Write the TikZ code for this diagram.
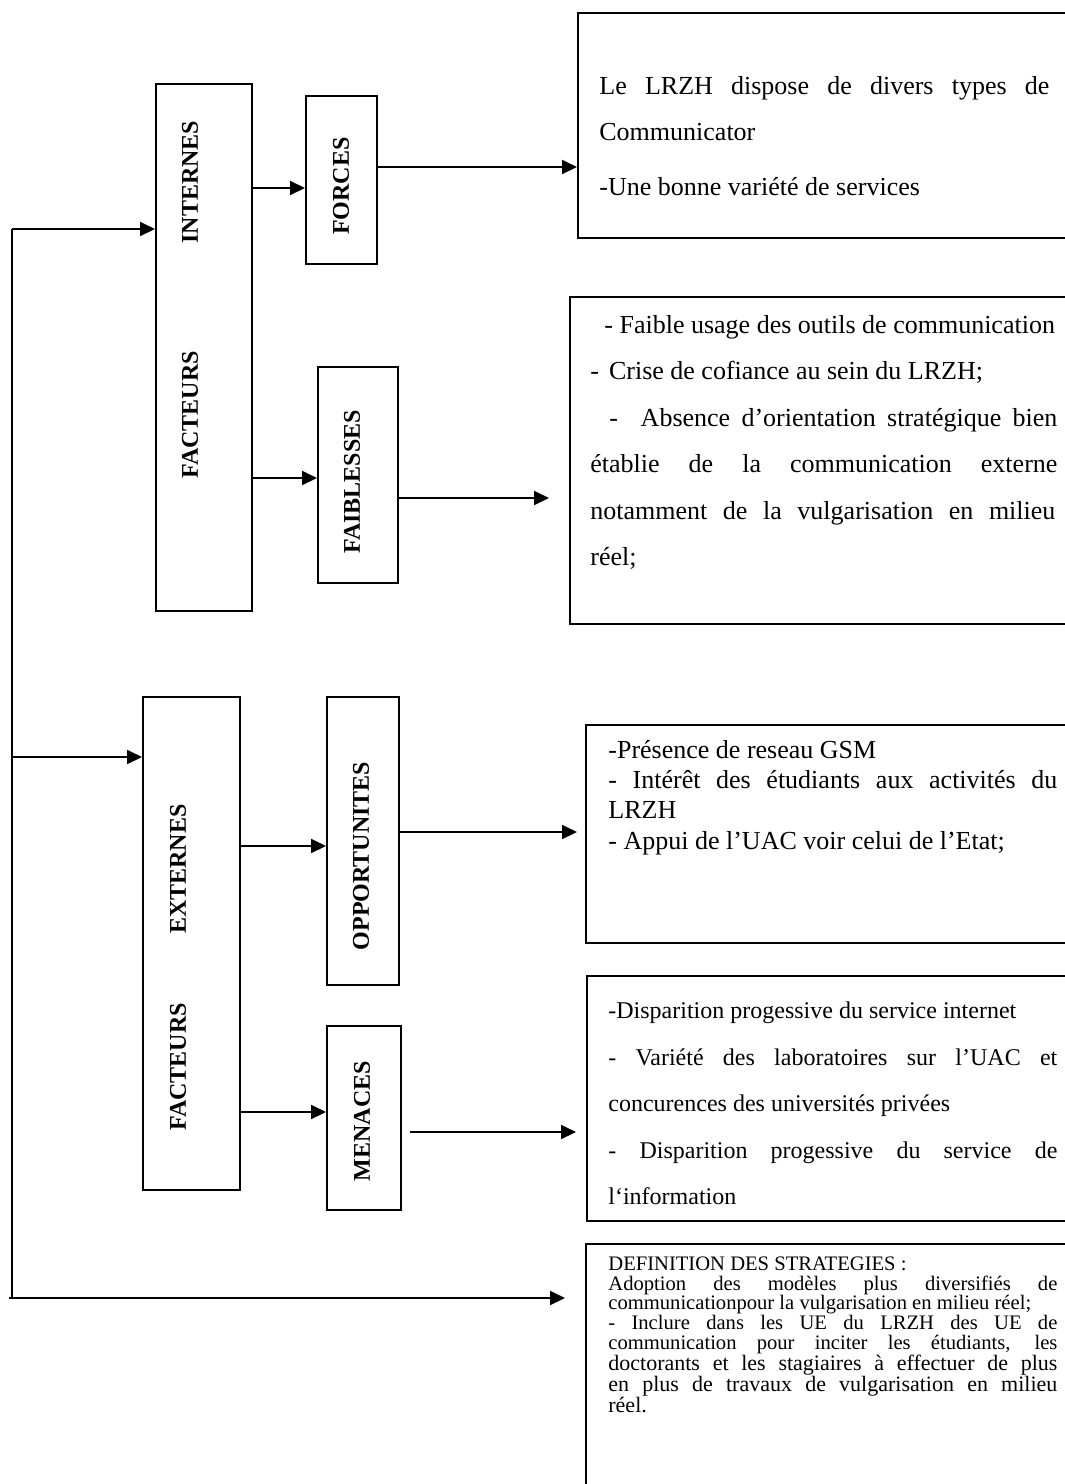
\documentclass[tikz,border=0pt]{standalone}
\usepackage{fontspec}
\setmainfont{Liberation Serif}
\usetikzlibrary{arrows.meta}
\newcommand\jline[2]{\makebox[#1][s]{#2}}
\begin{document}
\begin{tikzpicture}[x=0.5pt,y=-0.5pt,
  rect/.style={draw, line width=1pt, inner sep=0pt},
  lab/.style={rotate=90, inner sep=0pt, font=\fontsize{12}{14}\selectfont\bfseries},
  txt/.style={anchor=base west, inner sep=0pt, font=\fontsize{13}{15}\selectfont},
  txtm/.style={anchor=base west, inner sep=0pt, font=\fontsize{12}{14}\selectfont},
  txts/.style={anchor=base west, inner sep=0pt, font=\fontsize{10.3}{10}\selectfont},
  txtl/.style={anchor=base west, inner sep=0pt, font=\fontsize{11}{10.5}\selectfont},
  ln/.style={line width=1pt},
  arr/.style={line width=1pt, -{Triangle[length=7.5pt,width=7pt]}}]
\useasboundingbox (0,0) rectangle (1065,1484);
\fill[white] (0,0) rectangle (1065,1484);

% left column boxes
\node[rect, minimum width=48pt, minimum height=263.5pt] (intbox) at (204,347.5) {};
\node[lab] (intA) at (190,182) {INTERNES};
\node[lab] (intB) at (190,415) {FACTEURS};
\node[rect, minimum width=48.5pt, minimum height=246.5pt] (extbox) at (191.5,943.5) {};
\node[lab] (extA) at (178,869) {EXTERNES};
\node[lab] (extB) at (178,1067) {FACTEURS};

% middle boxes
\node[rect, minimum width=35.5pt, minimum height=84pt] (forces) at (341.5,180) {};
\node[lab] at (341,186) {FORCES};
\node[rect, minimum width=40pt, minimum height=108pt] (faib) at (358,475) {};
\node[lab] at (352,482) {FAIBLESSES};
\node[rect, minimum width=36pt, minimum height=144pt] (opp) at (363,841) {};
\node[lab] at (361,856) {OPPORTUNITES};
\node[rect, minimum width=37pt, minimum height=92pt] (men) at (364,1118) {};
\node[lab] at (362,1121) {MENACES};

% right text boxes
\node[rect, minimum width=246pt, minimum height=112.5pt] (b1) at (824,125.5) {};
\node[txt] at (599,94) {\jline{225pt}{Le LRZH dispose de divers types de}};
\node[txt] at (599,140) {Communicator};
\node[txt] at (599,195) {-Une bonne variété de services};

\node[rect, minimum width=250pt, minimum height=163.5pt] (b2) at (820,460.5) {};
\node[txt] at (604,333) {- Faible usage des outils de communication};
\node[txt] at (590,379) {-\hspace{5pt}Crise de cofiance au sein du LRZH;};
\node[txt] at (609,426) {\jline{224pt}{- \ Absence d’orientation stratégique bien}};
\node[txt] at (590,472) {\jline{233.5pt}{établie de la communication externe}};
\node[txt] at (590,519) {\jline{232.5pt}{notamment de la vulgarisation en milieu}};
\node[txt] at (590,565) {réel;};

\node[rect, minimum width=242pt, minimum height=109pt] (b3) at (828,834) {};
\node[txt] at (608,758) {-Présence de reseau GSM};
\node[txt] at (608,788) {\jline{224.5pt}{- Intérêt des étudiants aux activités du}};
\node[txt] at (608,818) {LRZH};
\node[txt] at (608,849) {- Appui de l’UAC voir celui de l’Etat;};

\node[rect, minimum width=241.5pt, minimum height=122.5pt] (b4) at (828.5,1098.5) {};
\node[txtm] at (608,1018) {-Disparition progessive du service internet};
\node[txtm] at (608,1065) {\jline{224.5pt}{- Variété des laboratoires sur l’UAC et}};
\node[txtm] at (608,1111) {concurences des universités privées};
\node[txtm] at (608,1158) {\jline{224.5pt}{- Disparition progessive du service de}};
\node[txtm] at (608,1204) {l‘information};

\node[rect, minimum width=242pt, minimum height=128pt] (b5) at (828,1372) {};
\node[txts] at (608,1270) {DEFINITION DES STRATEGIES :};
\node[txts] at (608,1290) {\jline{224.5pt}{Adoption des modèles plus diversifiés de}};
\node[txts] at (608,1309) {communicationpour la vulgarisation en milieu réel;};
\node[txts] at (608,1329) {\jline{224.5pt}{- Inclure dans les UE du LRZH des UE de}};
\node[txts] at (608,1349) {\jline{224.5pt}{communication pour inciter les étudiants, les}};
\node[txtl] at (608,1370) {\jline{224.5pt}{doctorants et les stagiaires à effectuer de plus}};
\node[txtl] at (608,1391) {\jline{224.5pt}{en plus de travaux de vulgarisation en milieu}};
\node[txtl] at (608,1412) {réel.};

% trunk
\coordinate (ttop) at (12,229);
\coordinate (tmid) at (12,757);
\coordinate (tbot) at (12,1298);
\coordinate (tstart) at (9,1298);
\coordinate (tend) at (565,1298);
\draw[ln] (ttop) -- (tbot);
\draw[arr] (ttop) -- (intbox.west |- ttop);
\draw[arr] (tmid) -- (extbox.west |- tmid);
\draw[arr] (tstart) -- (tend);

% connectors
\draw[arr] (intbox.east |- 0,188) -- (forces.west |- 0,188);
\draw[arr] (forces.east |- 0,167) -- (b1.west |- 0,167);
\draw[arr] (intbox.east |- 0,478) -- (faib.west |- 0,478);
\draw[arr, shorten >=10pt] (faib.east |- 0,498) -- (b2.west |- 0,498);
\draw[arr] (extbox.east |- 0,846) -- (opp.west |- 0,846);
\draw[arr, shorten >=4pt] (opp.east |- 0,832) -- (b3.west |- 0,832);
\draw[arr] (extbox.east |- 0,1112) -- (men.west |- 0,1112);
\draw[arr, shorten <=4pt, shorten >=5pt] (men.east |- 0,1132) -- (b4.west |- 0,1132);
\end{tikzpicture}
\end{document}
